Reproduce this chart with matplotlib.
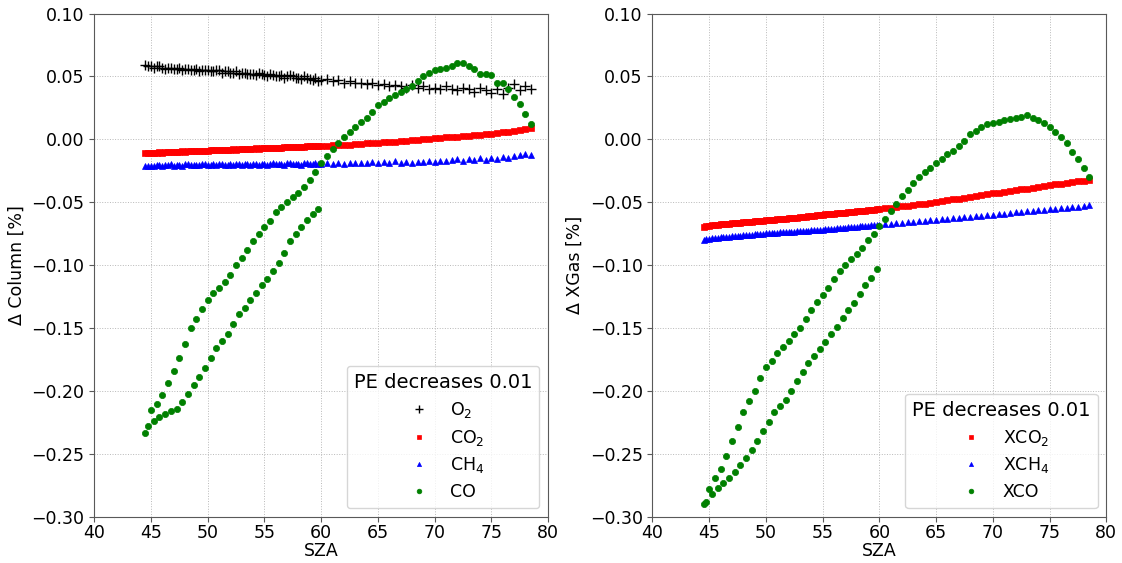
import matplotlib
matplotlib.use("Agg")
import matplotlib.pyplot as plt

# --- SZA grid: one branch covers the whole day range, the other only up to 60 ---
sza_am = [44.5, 45.0, 45.5, 46.0, 46.5, 47.0, 47.5, 48.0, 48.5, 49.0, 49.5, 50.0,
          50.5, 51.0, 51.5, 52.0, 52.5, 53.0, 53.5, 54.0, 54.5, 55.0, 55.5, 56.0,
          56.5, 57.0, 57.5, 58.0, 58.5, 59.0, 59.5, 60.0, 60.5, 61.0, 61.5, 62.0,
          62.5, 63.0, 63.5, 64.0, 64.5, 65.0, 65.5, 66.0, 66.5, 67.0, 67.5, 68.0,
          68.5, 69.0, 69.5, 70.0, 70.5, 71.0, 71.5, 72.0, 72.5, 73.0, 73.5, 74.0,
          74.5, 75.0, 75.5, 76.0, 76.5, 77.0, 77.5, 78.0, 78.5]
sza_pm = [44.75, 45.25, 45.75, 46.25, 46.75, 47.25, 47.75, 48.25, 48.75, 49.25,
          49.75, 50.25, 50.75, 51.25, 51.75, 52.25, 52.75, 53.25, 53.75, 54.25,
          54.75, 55.25, 55.75, 56.25, 56.75, 57.25, 57.75, 58.25, 58.75, 59.25, 59.75]

# --- lijevi panel: promjena kolone [%] ---
o2_am = [0.059, 0.058, 0.058, 0.057, 0.057, 0.056, 0.057, 0.056, 0.055, 0.056, 0.055, 0.055,
         0.054, 0.055, 0.054, 0.053, 0.054, 0.053, 0.052, 0.052, 0.053, 0.051, 0.052, 0.050,
         0.051, 0.050, 0.050, 0.049, 0.050, 0.048, 0.049, 0.047, 0.048, 0.046, 0.047, 0.045,
         0.046, 0.045, 0.045, 0.044, 0.045, 0.043, 0.044, 0.042, 0.043, 0.042, 0.041, 0.043,
         0.041, 0.042, 0.040, 0.041, 0.040, 0.042, 0.040, 0.039, 0.041, 0.040, 0.038, 0.041,
         0.039, 0.037, 0.040, 0.036, 0.041, 0.044, 0.039, 0.042, 0.040]
o2_pm = [0.058, 0.057, 0.058, 0.056, 0.057, 0.056, 0.055, 0.056, 0.055, 0.054, 0.055,
         0.054, 0.055, 0.053, 0.054, 0.053, 0.052, 0.053, 0.052, 0.051, 0.052, 0.050,
         0.051, 0.050, 0.049, 0.051, 0.049, 0.048, 0.049, 0.047, 0.046]

co2_am = [-0.0110, -0.0108, -0.0106, -0.0105, -0.0103, -0.0101, -0.0099, -0.0097, -0.0095,
          -0.0093, -0.0091, -0.0089, -0.0088, -0.0086, -0.0084, -0.0082, -0.0081, -0.0079,
          -0.0077, -0.0075, -0.0073, -0.0071, -0.0069, -0.0067, -0.0066, -0.0064, -0.0062,
          -0.0060, -0.0058, -0.0056, -0.0054, -0.0052, -0.0050, -0.0048, -0.0046, -0.0044,
          -0.0041, -0.0038, -0.0036, -0.0033, -0.0030, -0.0028, -0.0024, -0.0021, -0.0018,
          -0.0014, -0.0010, -0.0006, -0.0003, 0.0001, 0.0004, 0.0008, 0.0011, 0.0015,
          0.0019, 0.0022, 0.0026, 0.0030, 0.0034, 0.0038, 0.0042, 0.0046, 0.0050,
          0.0055, 0.0060, 0.0066, 0.0072, 0.0081, 0.0090]
co2_pm = [-0.0111, -0.0107, -0.0104, -0.0104, -0.0100, -0.0098, -0.0096, -0.0096, -0.0092,
          -0.0090, -0.0090, -0.0087, -0.0085, -0.0083, -0.0083, -0.0080, -0.0078, -0.0076,
          -0.0076, -0.0072, -0.0070, -0.0070, -0.0066, -0.0065, -0.0063, -0.0061, -0.0061,
          -0.0057, -0.0055, -0.0055, -0.0051]

ch4_am = [-0.0215, -0.0210, -0.0205, -0.0212, -0.0200, -0.0208, -0.0203, -0.0198, -0.0206,
          -0.0200, -0.0197, -0.0204, -0.0199, -0.0196, -0.0203, -0.0198, -0.0195, -0.0202,
          -0.0197, -0.0193, -0.0201, -0.0196, -0.0192, -0.0199, -0.0194, -0.0190, -0.0198,
          -0.0193, -0.0189, -0.0196, -0.0191, -0.0195, -0.0188, -0.0193, -0.0187, -0.0192,
          -0.0186, -0.0191, -0.0185, -0.0190, -0.0184, -0.0189, -0.0182, -0.0188, -0.0175,
          -0.0186, -0.0180, -0.0185, -0.0178, -0.0183, -0.0170, -0.0181, -0.0173, -0.0176,
          -0.0168, -0.0160, -0.0172, -0.0158, -0.0165, -0.0150, -0.0162, -0.0148, -0.0158,
          -0.0142, -0.0152, -0.0135, -0.0128, -0.0120, -0.0125]
ch4_pm = [-0.0208, -0.0213, -0.0201, -0.0207, -0.0199, -0.0204, -0.0210, -0.0197, -0.0202,
          -0.0207, -0.0196, -0.0201, -0.0206, -0.0195, -0.0200, -0.0205, -0.0194, -0.0199,
          -0.0204, -0.0192, -0.0198, -0.0203, -0.0191, -0.0197, -0.0202, -0.0190, -0.0196,
          -0.0201, -0.0189, -0.0194, -0.0199]

co_am = [-0.233, -0.215, -0.210, -0.203, -0.194, -0.184, -0.174, -0.163, -0.150, -0.143,
         -0.135, -0.128, -0.122, -0.118, -0.113, -0.108, -0.100, -0.094, -0.088, -0.081,
         -0.075, -0.070, -0.065, -0.058, -0.054, -0.050, -0.046, -0.043, -0.038, -0.032,
         -0.026, -0.019, -0.013, -0.008, -0.003, 0.002, 0.006, 0.010, 0.014, 0.017,
         0.022, 0.027, 0.030, 0.033, 0.035, 0.038, 0.040, 0.042, 0.046, 0.050,
         0.053, 0.055, 0.056, 0.057, 0.058, 0.061, 0.061, 0.058, 0.056, 0.052,
         0.052, 0.051, 0.045, 0.045, 0.040, 0.034, 0.028, 0.020, 0.012]
co_pm = [-0.228, -0.224, -0.221, -0.218, -0.216, -0.214, -0.209, -0.202, -0.195, -0.189,
         -0.182, -0.174, -0.166, -0.160, -0.155, -0.147, -0.139, -0.134, -0.128, -0.122,
         -0.116, -0.111, -0.105, -0.098, -0.090, -0.081, -0.075, -0.070, -0.064, -0.059,
         -0.055]

# --- desni panel: promjena XGas [%] ---
xco2_am = [-0.0695, -0.0685, -0.0680, -0.0675, -0.0670, -0.0667, -0.0663, -0.0660, -0.0656,
           -0.0652, -0.0648, -0.0644, -0.0640, -0.0636, -0.0632, -0.0628, -0.0624, -0.0620,
           -0.0615, -0.0610, -0.0605, -0.0600, -0.0596, -0.0592, -0.0588, -0.0583, -0.0578,
           -0.0573, -0.0568, -0.0563, -0.0558, -0.0553, -0.0548, -0.0543, -0.0538, -0.0533,
           -0.0528, -0.0522, -0.0516, -0.0510, -0.0504, -0.0498, -0.0491, -0.0484, -0.0478,
           -0.0472, -0.0465, -0.0458, -0.0452, -0.0445, -0.0438, -0.0430, -0.0424, -0.0418,
           -0.0411, -0.0405, -0.0398, -0.0391, -0.0384, -0.0378, -0.0371, -0.0365, -0.0358,
           -0.0352, -0.0346, -0.0340, -0.0335, -0.0330, -0.0325]
xco2_pm = [-0.0688, -0.0682, -0.0679, -0.0672, -0.0669, -0.0664, -0.0662, -0.0657, -0.0654,
           -0.0649, -0.0646, -0.0641, -0.0638, -0.0633, -0.0630, -0.0625, -0.0622, -0.0617,
           -0.0613, -0.0607, -0.0603, -0.0597, -0.0594, -0.0589, -0.0586, -0.0580, -0.0576,
           -0.0570, -0.0566, -0.0560, -0.0556]

xch4_am = [-0.0800, -0.0790, -0.0785, -0.0780, -0.0776, -0.0772, -0.0768, -0.0764, -0.0760,
           -0.0756, -0.0752, -0.0748, -0.0745, -0.0742, -0.0739, -0.0736, -0.0733, -0.0730,
           -0.0727, -0.0724, -0.0721, -0.0718, -0.0714, -0.0710, -0.0706, -0.0702, -0.0698,
           -0.0694, -0.0690, -0.0686, -0.0682, -0.0678, -0.0674, -0.0670, -0.0666, -0.0662,
           -0.0658, -0.0654, -0.0650, -0.0646, -0.0642, -0.0638, -0.0634, -0.0630, -0.0626,
           -0.0622, -0.0618, -0.0614, -0.0610, -0.0606, -0.0602, -0.0598, -0.0594, -0.0590,
           -0.0585, -0.0580, -0.0576, -0.0572, -0.0567, -0.0562, -0.0558, -0.0554, -0.0550,
           -0.0546, -0.0542, -0.0538, -0.0534, -0.0530, -0.0525]
xch4_pm = [-0.0794, -0.0786, -0.0783, -0.0777, -0.0775, -0.0769, -0.0767, -0.0761, -0.0759,
           -0.0753, -0.0751, -0.0746, -0.0744, -0.0740, -0.0738, -0.0734, -0.0732, -0.0728,
           -0.0726, -0.0722, -0.0720, -0.0716, -0.0712, -0.0708, -0.0704, -0.0700, -0.0696,
           -0.0692, -0.0688, -0.0684, -0.0680]

xco_am = [-0.290, -0.278, -0.269, -0.262, -0.252, -0.240, -0.229, -0.217, -0.208, -0.200,
          -0.190, -0.181, -0.176, -0.170, -0.165, -0.160, -0.155, -0.150, -0.143, -0.136,
          -0.129, -0.124, -0.118, -0.111, -0.105, -0.100, -0.095, -0.091, -0.086, -0.080,
          -0.075, -0.069, -0.063, -0.057, -0.051, -0.045, -0.040, -0.035, -0.030, -0.026,
          -0.023, -0.019, -0.016, -0.012, -0.009, -0.005, -0.001, 0.004, 0.007, 0.010,
          0.012, 0.013, 0.014, 0.015, 0.016, 0.017, 0.018, 0.019, 0.017, 0.015,
          0.013, 0.010, 0.006, 0.002, -0.003, -0.010, -0.016, -0.023, -0.030]
xco_pm = [-0.288, -0.282, -0.277, -0.273, -0.269, -0.264, -0.259, -0.253, -0.247, -0.240,
          -0.232, -0.225, -0.217, -0.212, -0.207, -0.200, -0.192, -0.185, -0.178, -0.172,
          -0.167, -0.161, -0.155, -0.149, -0.142, -0.136, -0.130, -0.123, -0.116, -0.110,
          -0.103]

x_ticks = [40, 45, 50, 55, 60, 65, 70, 75, 80]
y_ticks = [-0.30, -0.25, -0.20, -0.15, -0.10, -0.05, 0.00, 0.05, 0.10]

plt.rcParams["font.family"] = "DejaVu Sans"
plt.rcParams["font.size"] = 12.5
plt.rcParams["axes.edgecolor"] = "0.35"
plt.rcParams["xtick.color"] = "0.35"
plt.rcParams["ytick.color"] = "0.35"
plt.rcParams["xtick.labelcolor"] = "black"
plt.rcParams["ytick.labelcolor"] = "black"

fig, (ax1, ax2) = plt.subplots(1, 2, figsize=(11.22, 5.63), dpi=100)
fig.subplots_adjust(left=0.084, right=0.986, bottom=0.082, top=0.976, wspace=0.23)


def crtaj(ax, y_am, y_pm, marker, boja, ime, ms):
    ax.plot(sza_am + sza_pm, y_am + y_pm, linestyle="none", marker=marker,
            color=boja, markersize=ms, markeredgewidth=1 if marker == "+" else 0.5,
            label=ime)


# --- lijevi grafikon ---
crtaj(ax1, o2_am, o2_pm, "+", "black", "O$_2$", 7)
crtaj(ax1, co2_am, co2_pm, "s", "red", "CO$_2$", 4)
crtaj(ax1, ch4_am, ch4_pm, "^", "blue", "CH$_4$", 4)
crtaj(ax1, co_am, co_pm, "o", "green", "CO", 4.5)
ax1.set_ylabel("Δ Column [%]")

# --- desni grafikon ---
crtaj(ax2, xco2_am, xco2_pm, "s", "red", "XCO$_2$", 4)
crtaj(ax2, xch4_am, xch4_pm, "^", "blue", "XCH$_4$", 4)
crtaj(ax2, xco_am, xco_pm, "o", "green", "XCO", 4.5)
ax2.set_ylabel("Δ XGas [%]")

for ax in (ax1, ax2):
    ax.set_xlim(40, 80)
    ax.set_ylim(-0.30, 0.10)
    ax.set_xticks(x_ticks)
    ax.set_yticks(y_ticks)
    ax.tick_params(axis="x", pad=2)
    ax.set_xlabel("SZA", labelpad=0)
    ax.grid(True, linestyle=":", color="0.72", linewidth=0.7)
    ax.set_axisbelow(True)
    leg = ax.legend(loc="lower right", title="PE decreases 0.01", fontsize=12.5,
                    markerscale=0.75, title_fontsize=14, labelspacing=0.45)

fig.savefig("out.png", dpi=100)
